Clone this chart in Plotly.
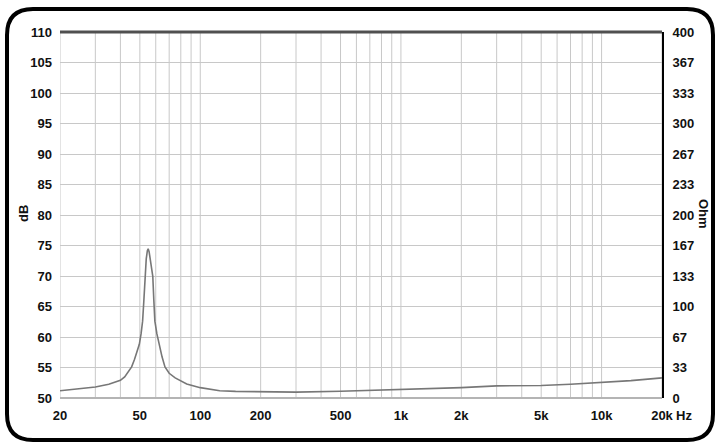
import plotly.graph_objects as go

# Impedance curve (Ohm, right axis)
freq_hz = [20, 25, 30, 35, 38, 40, 42, 44, 45.5, 47, 48, 49.7, 50.7, 51.6, 52.3, 53, 53.8, 54.5, 55,
           55.6, 56.3, 57.2, 58, 58.7, 59.4, 60.8, 62.4, 64.5, 66.7, 70, 75, 85.6, 100, 125, 150, 200,
           300, 500, 1000, 2000, 3000, 4000, 5000, 7000, 10000, 14000, 20000]
impedance_ohm = [8.0, 10.0, 12.0, 15.0, 17.5, 19.3, 23, 29, 34, 42, 48, 58.7, 70, 84, 105, 133, 152, 161, 163,
                 160, 150, 140, 133, 107, 84, 70, 58.7, 45, 34, 27, 22, 15.3, 11.3, 8.0, 7.2, 6.7,
                 6.4, 7.3, 9.3, 11.3, 13.3, 13.2, 13.7, 15.0, 16.7, 19.0, 22.0]

db_ticks = [50, 55, 60, 65, 70, 75, 80, 85, 90, 95, 100, 105, 110]
ohm_tickvals = [0, 400/12, 800/12, 100, 1600/12, 2000/12, 200, 2800/12, 3200/12, 300, 4000/12, 4400/12, 400]
ohm_ticktext = ["0", "33", "67", "100", "133", "167", "200", "233", "267", "300", "333", "367", "400"]
x_tickvals = [20, 50, 100, 200, 500, 1000, 2000, 5000, 10000, 20000]
x_ticktext = ["20", "50", "100", "200", "500", "1k", "2k", "5k", "10k", "20k"]
x_grid = [20, 30, 40, 50, 60, 70, 80, 90, 100, 200, 300, 400, 500, 600, 700, 800, 900,
          1000, 2000, 3000, 4000, 5000, 6000, 7000, 8000, 9000, 10000, 20000]

W, H = 721, 448
L, R, T, B = 60, 59, 32, 50
pw, ph = W - L - R, H - T - B

FAM = "Liberation Sans, Arial"
tfont = dict(family=FAM, size=13, color="#111")

def bold(labels):
    return ["<b>%s</b>" % s for s in labels]

fig = go.Figure()
fig.add_trace(go.Scatter(x=[20, 20000], y=[50, 50], mode="lines", line=dict(width=0),
                         hoverinfo="skip", showlegend=False))
fig.add_trace(go.Scatter(x=freq_hz, y=impedance_ohm, mode="lines", yaxis="y2",
                         line=dict(color="#777777", width=1.6),
                         hoverinfo="skip", showlegend=False))

shapes = []
for f in x_grid:
    shapes.append(dict(type="line", xref="x", yref="paper", x0=f, x1=f, y0=0, y1=1,
                       line=dict(color="#c8c8c8", width=1), layer="below"))
shapes.append(dict(type="line", xref="paper", yref="paper", x0=0, x1=1, y0=1, y1=1,
                   line=dict(color="#505050", width=3)))
shapes.append(dict(type="line", xref="paper", yref="paper", x0=0, x1=1, y0=0, y1=0,
                   line=dict(color="#b4b4b4", width=2)))

fx0, fx1 = (7 - L) / pw, (713 - L) / pw
fy1, fy0 = (H - B - 9) / ph, (H - B - 440) / ph
rx, ry = 26 / pw, 26 / ph
path = (f"M {fx0+rx},{fy1} L {fx1-rx},{fy1} Q {fx1},{fy1} {fx1},{fy1-ry} "
        f"L {fx1},{fy0+ry} Q {fx1},{fy0} {fx1-rx},{fy0} "
        f"L {fx0+rx},{fy0} Q {fx0},{fy0} {fx0},{fy0+ry} "
        f"L {fx0},{fy1-ry} Q {fx0},{fy1} {fx0+rx},{fy1} Z")
shapes.append(dict(type="path", xref="paper", yref="paper", path=path,
                   line=dict(color="#000", width=4)))

fig.update_layout(
    width=W, height=H, margin=dict(l=L, r=R, t=T, b=B),
    paper_bgcolor="white", plot_bgcolor="white",
    font=dict(family=FAM, size=13, color="#111"),
    xaxis=dict(type="log", range=[1.30103, 4.30103], tickvals=x_tickvals, ticktext=bold(x_ticktext),
               showgrid=False, zeroline=False, ticks="", tickfont=tfont, ticklabelstandoff=8),
    yaxis=dict(range=[50, 110], tickvals=db_ticks, ticktext=bold([str(v) for v in db_ticks]),
               showgrid=True, gridcolor="#c8c8c8", gridwidth=1,
               zeroline=False, ticks="", ticklabelstandoff=7, tickfont=tfont),
    yaxis2=dict(range=[0, 400], overlaying="y", side="right", tickvals=ohm_tickvals, ticktext=bold(ohm_ticktext),
                showgrid=False, zeroline=False, showline=True, linecolor="#000", linewidth=2,
                ticks="", ticklabelstandoff=6, tickfont=tfont),
    shapes=shapes,
    annotations=[
        dict(text="<b>Hz</b>", xref="paper", yref="paper", x=(674 - L) / pw, y=0,
             xanchor="left", yanchor="top", yshift=-8, showarrow=False, font=tfont),
        dict(text="<b>Ohm</b>", xref="paper", yref="paper", x=(704 - L) / pw, y=(H - B - 214) / ph,
             xanchor="center", yanchor="middle", textangle=90, showarrow=False, font=tfont),
        dict(text="<b>dB</b>", xref="paper", yref="paper", x=(23 - L) / pw, y=(H - B - 214) / ph,
             xanchor="center", yanchor="middle", textangle=-90, showarrow=False, font=tfont),
    ],
)

fig.write_html("out.html")
